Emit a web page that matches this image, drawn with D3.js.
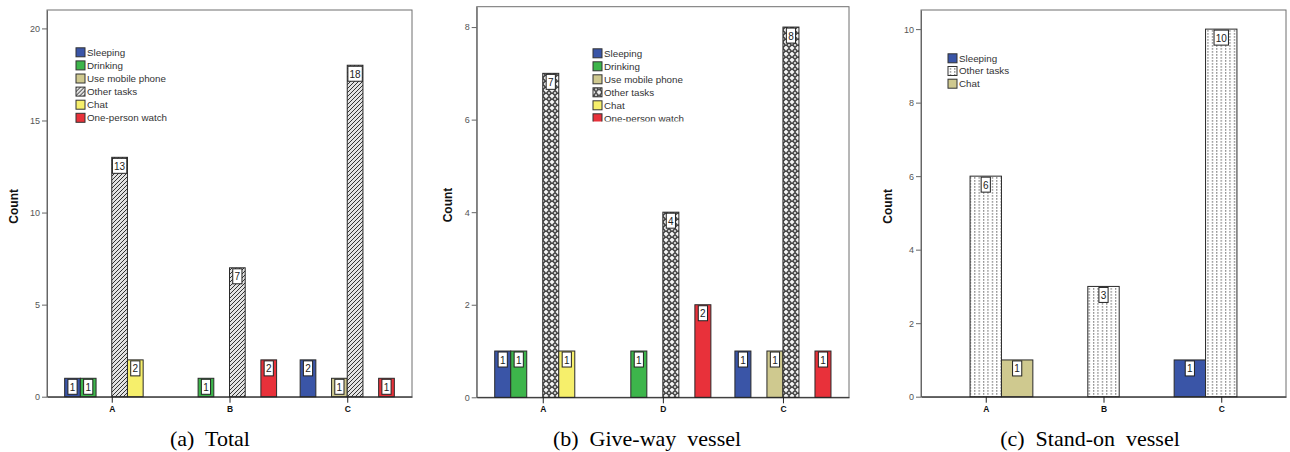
<!DOCTYPE html>
<html>
<head>
<meta charset="utf-8">
<script src="https://d3js.org/d3.v7.min.js"></script>
<style>
  body { margin: 0; background: #fff; }
  svg { font-family: "Liberation Sans", Arial, sans-serif; }
</style>
</head>
<body>
<div id="chart"></div>
<script>
const BLUE = "#3a55a7"
const GREEN = "#3db54b"
const TAN = "#cfc98f"
const YELLOW = "#f6ef6b"
const RED = "#e8313a"

// (a) Total
const totalCategories = ["A", "B", "C"];
const totalSeries = ["Sleeping", "Drinking", "Use mobile phone", "Other tasks", "Chat", "One-person watch"];
const totalCounts = [
  [1, 1, 0, 13, 2, 0],
  [0, 1, 0, 7, 0, 2],
  [2, 0, 1, 18, 0, 1]
];
const totalTicks = [0, 5, 10, 15, 20];

// (b) Give-way vessel
const giveCategories = ["A", "D", "C"];
const giveSeries = ["Sleeping", "Drinking", "Use mobile phone", "Other tasks", "Chat", "One-person watch"];
const giveCounts = [
  [1, 1, 0, 7, 1, 0],
  [0, 1, 0, 4, 0, 2],
  [1, 0, 1, 8, 0, 1]
];
const giveTicks = [0, 2, 4, 6, 8];

// (c) Stand-on vessel
const standCategories = ["A", "B", "C"];
const standSeries = ["Sleeping", "Other tasks", "Chat"];
const standCounts = [
  [0, 6, 1],
  [0, 3, 0],
  [1, 10, 0]
];
const standTicks = [0, 2, 4, 6, 8, 10];

const svg = d3.select("#chart").append("svg")
  .attr("width", 1290)
  .attr("height", 452);

const defs = svg.append("defs");

// hatch for "Other tasks" in (a)
let pat = defs.append("pattern").attr("id", "hatch")
  .attr("patternUnits", "userSpaceOnUse").attr("width", 4).attr("height", 4);
pat.append("rect").attr("width", 4).attr("height", 4).attr("fill", "#e2e2e2");
pat.append("path").attr("d", "M-1,1 l2,-2 M0,4 l4,-4 M3,5 l2,-2")
  .attr("stroke", "#333").attr("stroke-width", 1);

// crosses for "Other tasks" in (b)
pat = defs.append("pattern").attr("id", "cross")
  .attr("patternUnits", "userSpaceOnUse").attr("width", 6).attr("height", 6);
pat.append("rect").attr("width", 6).attr("height", 6).attr("fill", "#f4f4f4");
pat.append("path").attr("d", "M3,-0.5 L6.5,3 L3,6.5 L-0.5,3Z").attr("fill", "#444");
pat.append("path").attr("d", "M3,1.9 v2.2 M1.9,3 h2.2").attr("stroke", "#fff").attr("stroke-width", 0.9);

// dotted lines for "Other tasks" in (c)
pat = defs.append("pattern").attr("id", "dots")
  .attr("patternUnits", "userSpaceOnUse").attr("width", 4.4).attr("height", 3);
pat.append("rect").attr("width", 4.4).attr("height", 3).attr("fill", "#fff");
pat.append("rect").attr("x", 2).attr("width", 0.9).attr("height", 1.8).attr("fill", "#666");

defs.append("clipPath").attr("id", "legendClipB")
  .append("rect").attr("x", 580).attr("y", 40).attr("width", 200).attr("height", 81.5);

function drawPanel(p) {
  const g = svg.append("g");

  const x = d3.scalePoint().domain(p.categories).range([p.x0, p.x1]).padding(0.55);
  const groupW = x.step() * 0.8;
  const xs = d3.scaleBand().domain(p.series).range([-groupW / 2, groupW / 2]);
  const y = d3.scaleLinear().domain([0, p.yMax]).range([p.y1, p.y0]);

  // frame
  g.append("rect")
    .attr("x", p.x0).attr("y", p.y0)
    .attr("width", p.x1 - p.x0).attr("height", p.y1 - p.y0)
    .attr("fill", "none").attr("stroke", "#6f6f6f");

  // Y axis
  const ya = g.append("g")
    .attr("transform", "translate(" + p.x0 + ",0)")
    .call(d3.axisLeft(y).tickValues(p.ticks).tickSize(5).tickSizeOuter(0).tickPadding(2));
  ya.select(".domain").attr("stroke", "#666");
  ya.selectAll(".tick line").attr("stroke", "#666");
  ya.selectAll("text").attr("fill", "#555").style("font-size", "9px");

  // bars
  const rows = [];
  p.categories.forEach((c, i) => {
    p.series.forEach((s, j) => {
      if (p.counts[i][j] > 0) rows.push({cat: c, ser: s, v: p.counts[i][j], fill: p.fills[j]});
    });
  });

  g.selectAll(".bar")
    .data(rows)
    .enter().append("rect")
    .attr("class", "bar")
    .attr("x", d => x(d.cat) + xs(d.ser))
    .attr("y", d => y(d.v))
    .attr("width", xs.bandwidth())
    .attr("height", d => y(0) - y(d.v))
    .attr("fill", d => d.fill)
    .attr("stroke", "#2a2a2a")
    .attr("stroke-width", 1);

  // value boxes
  const lab = g.selectAll(".lab")
    .data(rows)
    .enter().append("g")
    .attr("class", "lab")
    .attr("transform", d => "translate(" + (x(d.cat) + xs(d.ser) + xs.bandwidth() / 2) + "," + y(d.v) + ")");
  lab.append("rect")
    .attr("x", d => -(String(d.v).length * 5.2 + 4) / 2)
    .attr("y", 1)
    .attr("width", d => String(d.v).length * 5.2 + 4)
    .attr("height", 15)
    .attr("fill", "#fff")
    .attr("stroke", "#222");
  lab.append("text")
    .attr("y", 12.5)
    .attr("text-anchor", "middle")
    .style("font-size", "10px")
    .attr("fill", "#222")
    .text(d => d.v);

  // X axis
  const xa = g.append("g")
    .attr("transform", "translate(0," + p.y1 + ")")
    .call(d3.axisBottom(x).tickSize(6).tickSizeOuter(0).tickPadding(3));
  xa.select(".domain").attr("stroke", "#222");
  xa.selectAll(".tick line").attr("stroke", "#222");
  xa.selectAll("text").attr("fill", "#111").style("font-size", "8.5px").style("font-weight", "bold");

  // Y title
  g.append("text")
    .attr("transform", "translate(" + p.titleX + "," + ((p.y0 + p.y1) / 2 + 3) + ") rotate(-90)")
    .attr("text-anchor", "middle")
    .attr("dy", "0.35em")
    .style("font-size", "12px")
    .style("font-weight", "bold")
    .attr("fill", "#111")
    .text("Count");

  // legend
  const lg = g.append("g");
  if (p.legendClip) lg.attr("clip-path", "url(#" + p.legendClip + ")");
  const item = lg.selectAll(".leg")
    .data(p.series)
    .enter().append("g")
    .attr("transform", (d, i) => "translate(" + p.lx + "," + (p.ly + i * p.lstep) + ")");
  item.append("rect")
    .attr("x", 0).attr("y", -4.5)
    .attr("width", 9).attr("height", 9)
    .attr("fill", (d, i) => p.fills[i])
    .attr("stroke", "#333");
  item.append("text")
    .attr("x", 11).attr("y", 0)
    .attr("dy", "0.35em")
    .style("font-size", "9.8px")
    .attr("fill", "#333")
    .text(d => d);

  // caption
  svg.append("text")
    .attr("x", p.capX).attr("y", 446)
    .attr("text-anchor", "middle")
    .style("font-family", "'Liberation Serif', 'Times New Roman', serif")
    .style("font-size", "22px")
    .style("white-space", "pre")
    .attr("fill", "#000")
    .text(p.caption);
}

drawPanel({
  categories: totalCategories, series: totalSeries, counts: totalCounts, ticks: totalTicks,
  yMax: 21, x0: 47, x1: 412, y0: 10, y1: 396.7,
  fills: [BLUE, GREEN, TAN, "url(#hatch)", YELLOW, RED],
  titleX: 14, lx: 76, ly: 52.3, lstep: 13.1,
  capX: 210, caption: "(a)  Total"
});

drawPanel({
  categories: giveCategories, series: giveSeries, counts: giveCounts, ticks: giveTicks,
  yMax: 8.44, x0: 476.7, x1: 849, y0: 6.7, y1: 397.3,
  fills: [BLUE, GREEN, TAN, "url(#cross)", YELLOW, RED],
  titleX: 448, lx: 593, ly: 53.3, lstep: 13, legendClip: "legendClipB",
  capX: 647, caption: "(b)  Give-way  vessel"
});

drawPanel({
  categories: standCategories, series: standSeries, counts: standCounts, ticks: standTicks,
  yMax: 10.52, x0: 921, x1: 1286, y0: 10, y1: 396.7,
  fills: [BLUE, "url(#dots)", TAN],
  titleX: 888, lx: 948, ly: 58.3, lstep: 12.7,
  capX: 1090, caption: "(c)  Stand-on  vessel"
});
</script>
</body>
</html>
